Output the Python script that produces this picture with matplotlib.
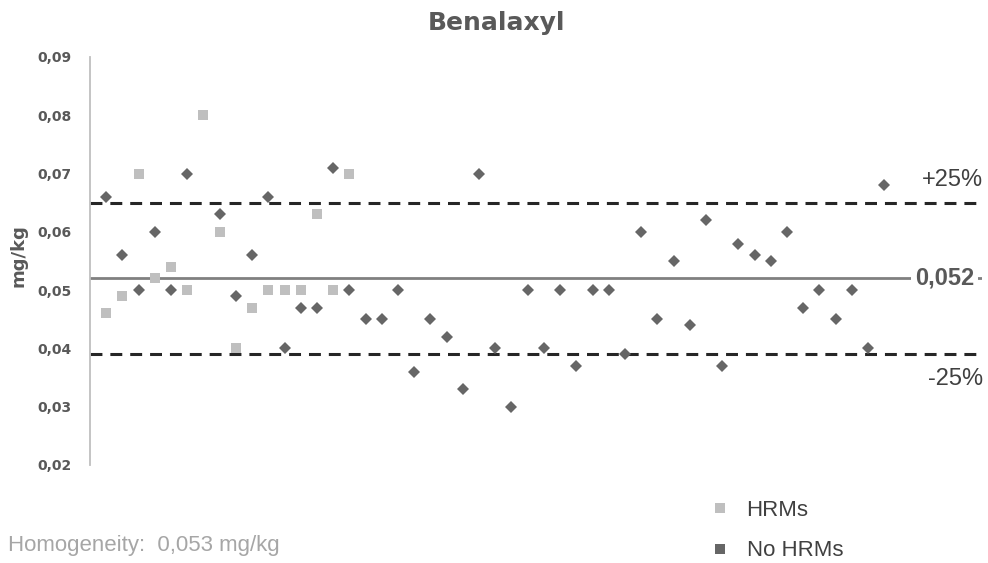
import matplotlib
matplotlib.use("Agg")
import matplotlib.pyplot as plt
from matplotlib.lines import Line2D
from matplotlib.ticker import FuncFormatter, MultipleLocator

# ---------------- data ----------------
title = "Benalaxyl"
y_label = "mg/kg"
assigned_value = 0.052
homogeneity = 0.053

hrm_x = list(range(1, 17))
hrm_values = [0.046, 0.049, 0.070, 0.052, 0.054, 0.050, 0.080, 0.060,
              0.040, 0.047, 0.050, 0.050, 0.050, 0.063, 0.050, 0.070]

nohrm_x = [1, 2, 3, 4, 5, 6] + list(range(8, 50))
nohrm_values = [0.066, 0.056, 0.050, 0.060, 0.050, 0.070,
                0.063, 0.049, 0.056, 0.066, 0.040, 0.047, 0.047, 0.071, 0.050,
                0.045, 0.045, 0.050, 0.036, 0.045, 0.042, 0.033, 0.070, 0.040,
                0.030, 0.050, 0.040, 0.050, 0.037, 0.050, 0.050, 0.039, 0.060,
                0.045, 0.055, 0.044, 0.062, 0.037, 0.058, 0.056, 0.055, 0.060,
                0.047, 0.050, 0.045, 0.050, 0.040, 0.068]

series_labels = ["HRMs", "No HRMs"]
tolerance = 0.25

# ---------------- figure ----------------
W, H = 988, 563
fig = plt.figure(figsize=(W / 100, H / 100), dpi=100)
ax = fig.add_axes([90 / W, 1 - 465 / H, (981.6 - 90) / W, (465 - 57) / H])

c_hrm = "#BFBFBF"
c_no = "#666666"
c_text = "#595959"

upper = assigned_value * (1 + tolerance)
lower = assigned_value * (1 - tolerance)

ax.axhline(assigned_value, color="#808080", lw=2.0, zorder=1)
ax.axhline(upper, color="#262626", lw=2.2, ls=(0, (3.9, 2.6)), zorder=1)
ax.axhline(lower, color="#262626", lw=2.2, ls=(0, (3.9, 2.6)), zorder=1)

ax.plot(hrm_x, hrm_values, ls="", marker="s", ms=7.6, mew=0,
        color=c_hrm, zorder=3)
ax.plot(nohrm_x, nohrm_values, ls="", marker="D", ms=6.5, mew=0,
        color=c_no, zorder=4)

ax.set_xlim(0, 55)
ax.set_ylim(0.02, 0.09)
ax.yaxis.set_major_locator(MultipleLocator(0.01))
ax.yaxis.set_major_formatter(FuncFormatter(lambda v, p: f"{v:.2f}".replace(".", ",")))
ax.set_xticks([])
ax.tick_params(axis="y", length=0, pad=13, labelsize=10, labelcolor=c_text)
for lab in ax.get_yticklabels():
    lab.set_fontweight("bold")
for s in ["top", "right", "bottom"]:
    ax.spines[s].set_visible(False)
ax.spines["left"].set_color("#BFBFBF")
ax.spines["left"].set_linewidth(1.3)

# line labels
ax.annotate("+25%", xy=(1.0015, upper), xycoords=("axes fraction", "data"),
            xytext=(0, 16), textcoords="offset points", ha="right", va="center",
            fontsize=17, color="#404040", family="Liberation Sans")
ax.annotate("-25%", xy=(1.0015, lower), xycoords=("axes fraction", "data"),
            xytext=(0, -18), textcoords="offset points", ha="right", va="center",
            fontsize=17, color="#404040", family="Liberation Sans")
ax.annotate(f"{assigned_value:.3f}".replace(".", ","), xy=(0.9915, assigned_value),
            xycoords=("axes fraction", "data"), ha="right", va="center",
            fontsize=17, color=c_text, family="Liberation Sans", fontweight="bold",
            bbox=dict(boxstyle="square,pad=0.15", fc="white", ec="none"), zorder=5)

# title and y label
fig.text(496 / W, 1 - 30 / H, title, ha="center", va="baseline",
         fontsize=18, fontweight="bold", color=c_text)
fig.text(18.5 / W, 1 - 256 / H, y_label, ha="center", va="center", rotation=90,
         fontsize=13, fontweight="bold", color=c_text)

# homogeneity note
fig.text(8 / W, 1 - 551 / H,
         f"Homogeneity:  {homogeneity:.3f}".replace(".", ",") + " mg/kg",
         ha="left", va="baseline", fontsize=16, color="#A6A6A6",
         family="Liberation Sans")

# legend
handles = [Line2D([], [], ls="", marker="s", ms=6.5, mew=0, color=c_hrm),
           Line2D([], [], ls="", marker="s", ms=6.5, mew=0, color=c_no)]
fig.legend(handles, series_labels, loc="upper left",
           bbox_to_anchor=(711 / W, 1 - 500 / H), frameon=False,
           prop=dict(family="Liberation Sans", size=16), labelcolor="#404040",
           handlelength=0.8, handletextpad=0.8, labelspacing=0.87, borderpad=0,
           borderaxespad=0)

fig.savefig("out.png", dpi=100)
